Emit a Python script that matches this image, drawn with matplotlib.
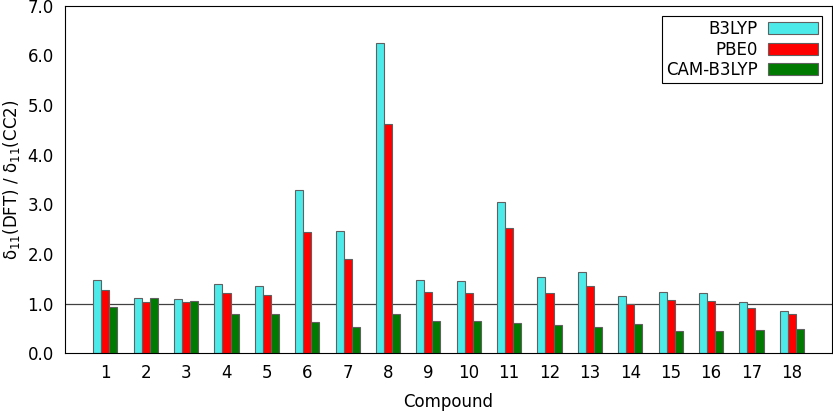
import numpy as np
from matplotlib import pyplot as plt

compounds = list(range(1, 19))
b3lyp = [1.47, 1.11, 1.10, 1.39, 1.36, 3.28, 2.46, 6.25, 1.47, 1.45, 3.05, 1.53, 1.64, 1.15, 1.23, 1.21, 1.04, 0.85]
pbe0 = [1.28, 1.04, 1.03, 1.21, 1.18, 2.44, 1.90, 4.62, 1.23, 1.21, 2.53, 1.22, 1.36, 1.00, 1.07, 1.05, 0.91, 0.78]
cam = [0.93, 1.11, 1.05, 0.79, 0.79, 0.62, 0.52, 0.79, 0.64, 0.64, 0.60, 0.56, 0.52, 0.58, 0.44, 0.44, 0.46, 0.49]

plt.rcParams['font.family'] = ['DejaVu Sans']
plt.rcParams['font.size'] = 12

fig = plt.figure(figsize=(8.33, 4.17), dpi=100)
ax = fig.add_axes([0.078, 0.153, 0.921, 0.833])

x = np.array(compounds)
w = 0.2
ax.bar(x - w, b3lyp, w, color='#4deaea', edgecolor='#606060', linewidth=0.8, label='B3LYP')
ax.bar(x, pbe0, w, color='#ff0000', edgecolor='#606060', linewidth=0.8, label='PBE0')
ax.bar(x + w, cam, w, color='#007a00', edgecolor='#606060', linewidth=0.8, label='CAM-B3LYP')

ax.axhline(1.0, color='#404040', linewidth=0.9, zorder=0.5)

ax.set_xlim(0, 19)
ax.set_ylim(0, 7)
ax.set_xticks(compounds)
ax.set_yticks(np.arange(0, 7.1, 1.0))
ax.set_yticklabels(['%.1f' % v for v in np.arange(0, 7.1, 1.0)])
ax.tick_params(length=0, pad=8)
ax.set_xlabel('Compound', labelpad=8)
ax.set_ylabel(r'δ$_{\mathregular{11}}$(DFT) / δ$_{\mathregular{11}}$(CC2)')

leg = ax.legend(loc='upper right', markerfirst=False, fancybox=False, framealpha=1,
                edgecolor='black', handlelength=3.0, handleheight=0.7,
                labelspacing=0.15, borderpad=0.25, borderaxespad=0.6,
                handletextpad=0.6)
leg.get_frame().set_linewidth(0.8)

plt.savefig('out.png')
